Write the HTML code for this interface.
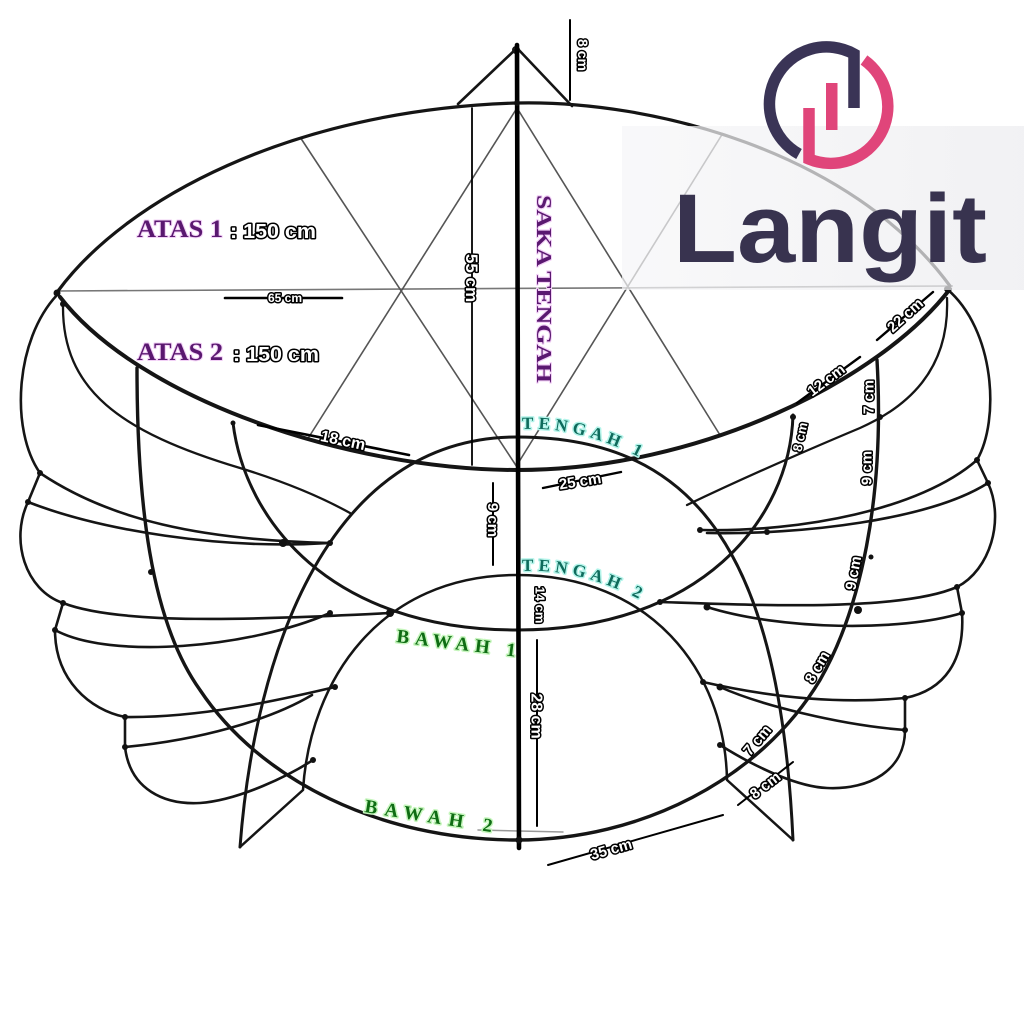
<!DOCTYPE html>
<html><head><meta charset="utf-8">
<style>
html,body{margin:0;padding:0;background:#fff;}
svg{display:block;}
.lbl{font-family:"Liberation Sans",sans-serif;font-weight:bold;fill:#fff;stroke:#000;stroke-width:3px;paint-order:stroke;stroke-linejoin:round;text-anchor:middle;}
.ser{font-family:"Liberation Serif",serif;font-weight:bold;paint-order:stroke;stroke-linejoin:round;}
</style></head><body>
<svg width="1024" height="1024" viewBox="0 0 1024 1024" xmlns="http://www.w3.org/2000/svg">
<rect width="1024" height="1024" fill="#fff"/>

<!-- thin star / guide lines -->
<g stroke="#555" stroke-width="1.6" fill="none">
  <path d="M58,291 L953,286" stroke="#777"/>
  <path d="M300,137 L517,467"/>
  <path d="M517,108 L307,440"/>
  <path d="M517,108 L720,435"/>
  <path d="M723,133 L517,465"/>
</g>

<!-- main frame -->
<g stroke="#151515" fill="none" stroke-linecap="round" stroke-linejoin="round">
  <!-- ATAS 1 upper arc -->
  <path d="M58,291 C125,200 290,110 517,103 C650,100 850,150 950,286" stroke-width="3.2"/>
  <!-- ATAS 2 lower arc -->
  <path d="M60,297 C140,400 350,470 517,470 C700,470 880,380 950,289" stroke-width="4"/>
  <!-- top triangle -->
  <path d="M458,104 L517,48 L572,106" stroke-width="2.6"/>
  <circle cx="516" cy="50" r="3" stroke-width="2"/>
  <!-- inner curves from apexes -->
  <path d="M63,305 C62,390 120,432 240,468 Q305,488 350,513" stroke-width="2.3"/>
  <path d="M947,298 C950,372 905,408 860,428 Q760,470 687,505" stroke-width="2.3"/>
  <!-- TENGAH 1 dome -->
  <path d="M240,847 C255,650 330,437 517,437 C700,437 780,560 793,840" stroke-width="3"/>
  <!-- TENGAH 2 dome -->
  <path d="M240,847 L303,790 C310,680 380,575 517,575 C650,575 725,670 727,780 L793,840" stroke-width="2.5"/>
  <!-- BAWAH 1 U -->
  <path d="M233,423 C245,520 330,630 517,630 C700,630 790,520 793,415" stroke-width="3"/>
  <!-- BAWAH 2 big U -->
  <path d="M137,368 C137,500 150,620 200,690 C260,780 380,840 517,840 C640,840 760,780 820,680 C860,610 885,500 877,360" stroke-width="3.4"/>

  <!-- left lobes -->
  <g stroke-width="2.6">
    <path d="M57,295 C15,340 10,430 40,473"/>
    <path d="M40,473 C110,520 200,540 330,543"/>
    <path d="M40,473 L28,502"/>
    <path d="M28,502 C100,530 220,550 330,543"/>
    <path d="M28,502 C10,540 25,590 63,603"/>
    <path d="M63,603 C120,625 250,620 390,613"/>
    <path d="M63,603 L55,630"/>
    <path d="M55,630 C110,660 250,648 330,613"/>
    <path d="M55,630 C55,680 90,710 125,717"/>
    <path d="M125,717 C200,718 280,700 335,687"/>
    <path d="M125,717 L125,747"/>
    <path d="M125,747 C200,740 270,720 312,695"/>
    <path d="M125,747 C130,790 165,805 200,803 C240,800 290,775 313,760"/>
  </g>
  <!-- right lobes -->
  <g stroke-width="2.6">
    <path d="M947,289 C995,330 1000,420 977,460"/>
    <path d="M977,460 C920,510 800,532 703,530"/>
    <path d="M977,460 L988,483"/>
    <path d="M988,483 C930,520 800,535 707,533"/>
    <path d="M988,483 C1005,520 990,570 957,587"/>
    <path d="M957,587 C900,612 750,605 660,602"/>
    <path d="M957,587 L962,613"/>
    <path d="M962,613 C900,632 780,630 707,607"/>
    <path d="M962,613 C965,660 945,690 905,698"/>
    <path d="M905,698 C830,705 760,695 703,682"/>
    <path d="M905,698 L905,730"/>
    <path d="M905,730 C840,725 760,705 720,687"/>
    <path d="M905,730 C905,770 870,790 827,788 C800,787 760,770 720,745"/>
  </g>

  <!-- dimension lines -->
  <g stroke="#000">
    <path d="M570,20 L570,100" stroke-width="2"/>
    <path d="M472,108 L472,465" stroke-width="1.8"/>
    <path d="M225,298 L342,298" stroke-width="2.6"/>
    <path d="M258,425 L409,455" stroke-width="2.6"/>
    <path d="M543,488 L621,472" stroke-width="2.4"/>
    <path d="M493,483 L493,565" stroke-width="2"/>
    <path d="M537,640 L537,826" stroke-width="2"/>
    <path d="M548,865 L723,815" stroke-width="2"/>
    <path d="M797,403 L860,357" stroke-width="2.4"/>
    <path d="M877,340 L933,292" stroke-width="2.4"/>
    <path d="M738,805 L793,762" stroke-width="2"/>
  </g>
  <path d="M478,830 L563,832" stroke="#999" stroke-width="1.5"/>

  <!-- pole -->
  <path d="M517,45 L519,848" stroke="#000" stroke-width="4.6"/>
</g>

<!-- junction dots -->
<g fill="#111">
  <circle cx="57" cy="293" r="3.5"/><circle cx="63" cy="304" r="3"/>
  <circle cx="40" cy="473" r="3"/><circle cx="28" cy="502" r="3"/>
  <circle cx="63" cy="603" r="3"/><circle cx="55" cy="630" r="3"/>
  <circle cx="125" cy="717" r="3"/><circle cx="125" cy="747" r="3"/>
  <circle cx="283" cy="543" r="4"/><circle cx="330" cy="543" r="3"/>
  <circle cx="390" cy="613" r="4"/><circle cx="330" cy="613" r="3"/>
  <circle cx="335" cy="687" r="3"/><circle cx="313" cy="760" r="3"/>
  <circle cx="151" cy="572" r="3"/><circle cx="233" cy="423" r="2.5"/>
  <circle cx="947" cy="289" r="3"/><circle cx="977" cy="460" r="3"/>
  <circle cx="988" cy="483" r="3"/><circle cx="957" cy="587" r="3"/>
  <circle cx="962" cy="613" r="3"/><circle cx="905" cy="698" r="3"/>
  <circle cx="905" cy="730" r="3"/><circle cx="700" cy="530" r="3"/>
  <circle cx="767" cy="532" r="3"/><circle cx="660" cy="602" r="3"/>
  <circle cx="707" cy="607" r="3.5"/><circle cx="858" cy="610" r="4"/>
  <circle cx="703" cy="682" r="3"/><circle cx="720" cy="687" r="3.5"/>
  <circle cx="720" cy="745" r="3"/><circle cx="793" cy="417" r="3"/>
  <circle cx="880" cy="417" r="3"/><circle cx="871" cy="557" r="2.5"/>
  <circle cx="517" cy="103" r="3"/><circle cx="519" cy="840" r="3.5"/>
</g>

<!-- logo panel -->
<defs>
  <linearGradient id="pg" x1="0" y1="0" x2="1" y2="0">
    <stop offset="0" stop-color="#f6f6f8"/>
    <stop offset="1" stop-color="#ececef"/>
  </linearGradient>
</defs>
<rect x="622" y="126" width="402" height="164" fill="url(#pg)" fill-opacity="0.72"/>
<path d="M854,108 L854,54 A57,57 0 0 0 799,154" fill="none" stroke="#3a3456" stroke-width="11.5"/>
<path d="M809,108 L809,159 A57,57 0 0 0 864,60" fill="none" stroke="#e0457a" stroke-width="11.5"/>
<rect x="826" y="83" width="11.5" height="47" fill="#e0457a"/>
<text x="673" y="262" font-family="Liberation Sans, sans-serif" font-weight="bold" font-size="97" fill="#38334f" textLength="314" lengthAdjust="spacingAndGlyphs">Langit</text>

<!-- purple labels -->
<g class="ser" fill="#5a1870" stroke="#f2d0f6" stroke-width="2">
  <text x="137" y="237" font-size="25" textLength="86" lengthAdjust="spacingAndGlyphs">ATAS 1</text>
  <text x="137" y="360" font-size="25" textLength="86" lengthAdjust="spacingAndGlyphs">ATAS 2</text>
  <text transform="translate(537,195) rotate(90)" font-size="21" textLength="188" lengthAdjust="spacingAndGlyphs">SAKA TENGAH</text>
</g>
<text class="lbl" x="273" y="238" font-size="20" textLength="86" lengthAdjust="spacingAndGlyphs">: 150 cm</text>
<text class="lbl" x="276" y="361" font-size="20" textLength="86" lengthAdjust="spacingAndGlyphs">: 150 cm</text>

<!-- teal / green labels -->
<defs>
  <path id="t1" d="M522,429 Q585,426 652,464"/>
  <path id="t2" d="M522,571 Q585,568 652,606"/>
</defs>
<g class="ser" fill="#0e6b5c" stroke="#b4f4ea" stroke-width="3">
  <text font-size="17" letter-spacing="5"><textPath href="#t1">TENGAH 1</textPath></text>
  <text font-size="17" letter-spacing="5"><textPath href="#t2">TENGAH 2</textPath></text>
</g>
<g class="ser" fill="#0f6d14" stroke="#c6f6bd" stroke-width="3">
  <text transform="translate(396,642) rotate(7)" font-size="19" letter-spacing="6">BAWAH 1</text>
  <text transform="translate(364,812) rotate(9)" font-size="19" letter-spacing="7.5">BAWAH 2</text>
</g>

<!-- dimension labels -->
<g class="lbl">
  <text transform="translate(583,55) rotate(90)" font-size="14" dy=".35em">8 cm</text>
  <text transform="translate(472,278) rotate(90)" font-size="17" dy=".35em">55 cm</text>
  <text transform="translate(285,298)" font-size="12" dy=".35em">65 cm</text>
  <text transform="translate(343,440) rotate(12)" font-size="16" dy=".35em">18 cm</text>
  <text transform="translate(580,481) rotate(-9)" font-size="15" dy=".35em">25 cm</text>
  <text transform="translate(493,520) rotate(90)" font-size="15" dy=".35em">9 cm</text>
  <text transform="translate(540,605) rotate(90)" font-size="13" dy=".35em">14 cm</text>
  <text transform="translate(537,716) rotate(90)" font-size="16" dy=".35em">28 cm</text>
  <text transform="translate(611,849) rotate(-16)" font-size="15" dy=".35em">35 cm</text>
  <text transform="translate(826,380) rotate(-37)" font-size="15" dy=".35em">12 cm</text>
  <text transform="translate(905,315) rotate(-42)" font-size="15" dy=".35em">22 cm</text>
  <text transform="translate(800,437) rotate(-78)" font-size="13" dy=".35em">8 cm</text>
  <text transform="translate(868,397) rotate(-90)" font-size="15" dy=".35em">7 cm</text>
  <text transform="translate(866,468) rotate(-90)" font-size="15" dy=".35em">9 cm</text>
  <text transform="translate(853,573) rotate(-80)" font-size="15" dy=".35em">9 cm</text>
  <text transform="translate(817,667) rotate(-60)" font-size="15" dy=".35em">8 cm</text>
  <text transform="translate(757,740) rotate(-50)" font-size="15" dy=".35em">7 cm</text>
  <text transform="translate(765,785) rotate(-38)" font-size="15" dy=".35em">8 cm</text>
</g>
</svg>
</body></html>
